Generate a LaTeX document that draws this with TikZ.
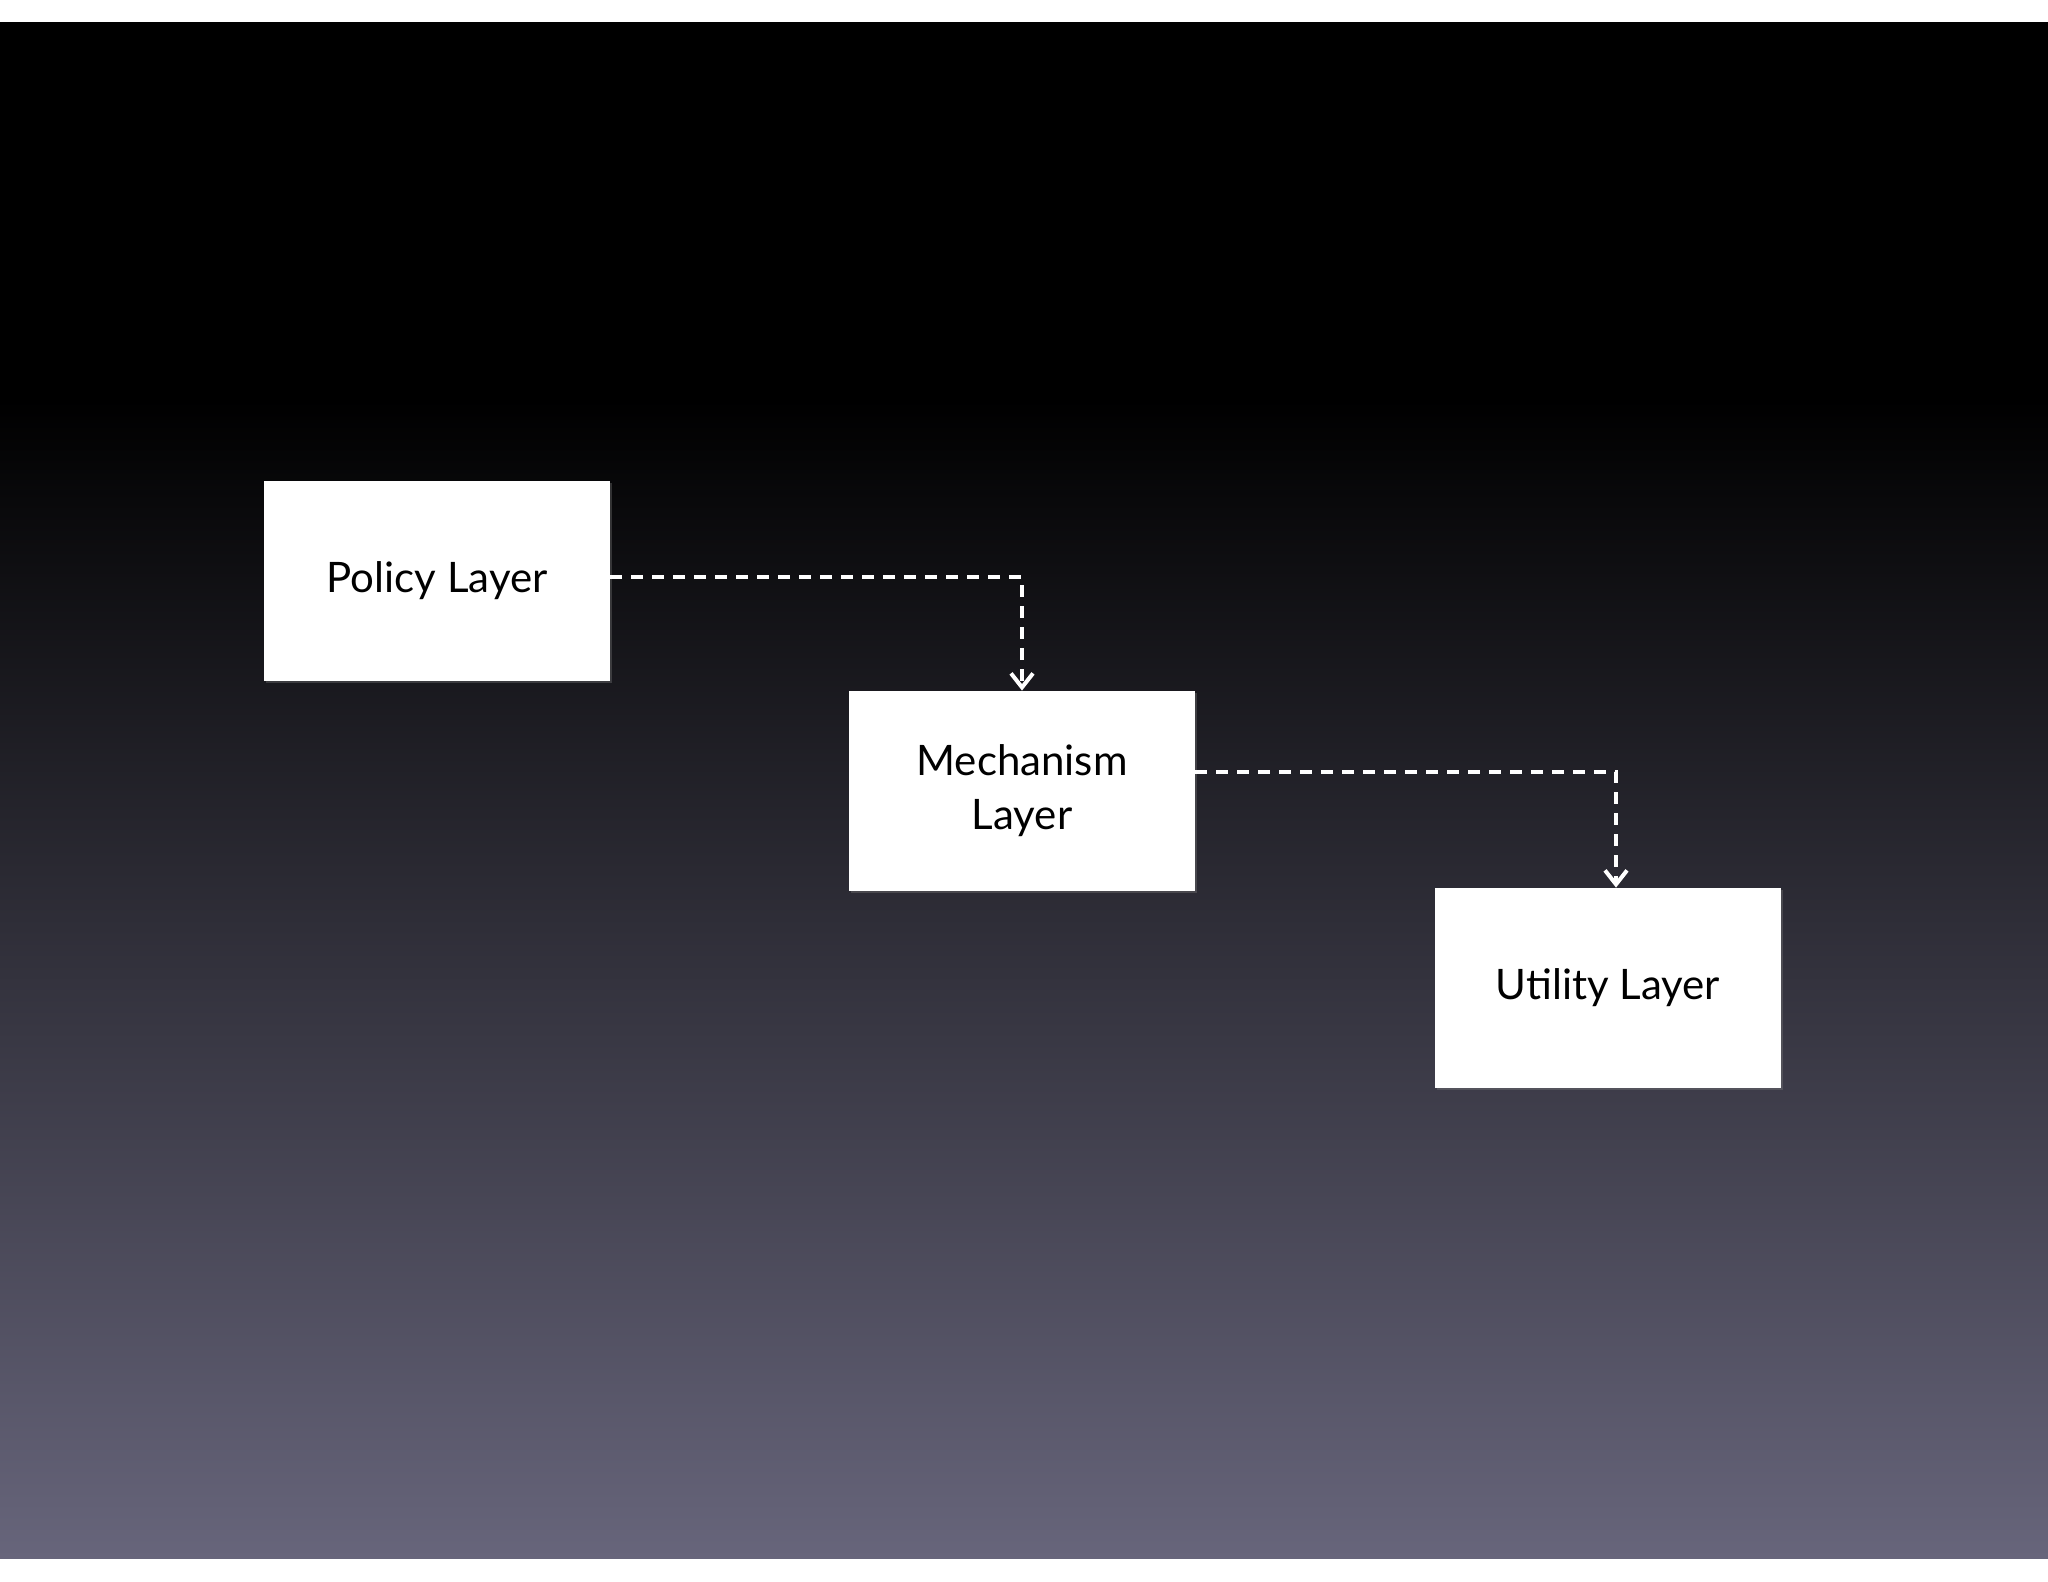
\documentclass[tikz,border=0pt]{standalone}
\usepackage{fontspec}
\setmainfont{Lato}
\usetikzlibrary{arrows.meta,shadows}
\definecolor{bgmid}{HTML}{1C1C3A}
\definecolor{bgbot}{HTML}{67657B}
\begin{document}
\begin{tikzpicture}[x=0.5pt,y=-0.5pt,
  layer/.style={draw=none,fill=white,minimum width=173pt,minimum height=100pt,inner sep=0pt,align=center,font=\fontsize{21}{27}\selectfont,text=black,drop shadow={opacity=0.35,shadow xshift=1pt,shadow yshift=-1pt}},
  link/.style={draw=white,line width=2.2pt,dash pattern=on 6pt off 4.5pt,-{Straight Barb[length=7pt,width=11pt,line width=2pt]}}]
\useasboundingbox (0,0) rectangle (2048,1582);
\fill[white] (0,0) rectangle (2048,1582);
\fill[black] (0,22) rectangle (2048,400);
\shade[top color=black,middle color=bgmid,bottom color=bgbot] (0,399) rectangle (2048,1558);
\node[layer] (p) at (437,581) {Policy Layer};
\node[layer] (m) at (1022,791) {Mechanism\\Layer};
\node[layer] (u) at (1608,988) {Utility Layer};
\draw[link] (p.east |- 0,577) -| (m.north);
\draw[link] (m.east |- 0,772) -| ([xshift=4]u.north);
\end{tikzpicture}
\end{document}
